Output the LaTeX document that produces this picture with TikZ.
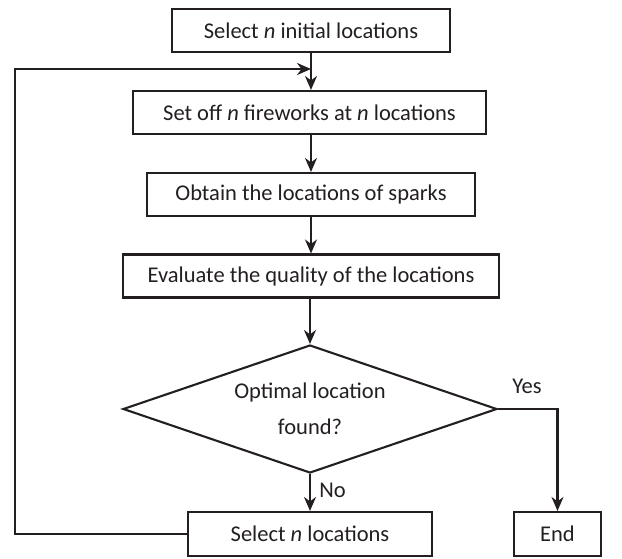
\documentclass[tikz,border=0pt]{standalone}
\usepackage{fontspec}
\setmainfont{Carlito}
\usetikzlibrary{shapes.geometric,arrows.meta}
\definecolor{ink}{HTML}{231F20}
\tikzset{
  box/.style={draw=ink, line width=2.1pt, rectangle, inner sep=0pt, minimum height=43pt, text=ink, font=\fontsize{22.5}{26}\selectfont},
  decide/.style={draw=ink, line width=2.1pt, shape=diamond, aspect=2.92, inner sep=0pt, minimum width=374pt, minimum height=128pt, text=ink, align=center, font=\fontsize{22.5}{36}\selectfont},
  flow/.style={draw=ink, line width=2.1pt, -{Stealth[length=14pt,width=12pt,inset=4.5pt]}},
  lbl/.style={text=ink, font=\fontsize{22.5}{26}\selectfont}
}
\begin{document}
\begin{tikzpicture}[x=1pt,y=-1pt]
\useasboundingbox (0,0) rectangle (622,558);
\node[box, minimum width=278pt] (b1) at (311,30.5) {Select \textit{n} initial locations};
\node[box, minimum width=353pt] (b2) at (309.5,112.5) {Set off \textit{n} fireworks at \textit{n} locations};
\node[box, minimum width=328pt] (b3) at (311,194.5) {Obtain the locations of sparks};
\node[box, minimum width=376pt] (b4) at (311,276) {Evaluate the quality of the locations};
\node[decide] (dia) at (310,409) {Optimal location\\found?};
\node[box, minimum width=244pt, minimum height=44pt] (sel) at (310,534) {Select \textit{n} locations};
\node[box, minimum width=87pt, minimum height=44pt] (end) at (557.5,534) {End};
\coordinate (fbb) at (15,534);
\coordinate (fbt) at (15,69);
\coordinate (fbj) at (311,69);
\coordinate (yc) at (557.5,409);
\draw[flow] (b1.south) -- (b1.south |- b2.north);
\draw[flow] (sel.west) -- (fbb) -- (fbt) -- (fbj);
\draw[flow] (b2.south -| b3.north) -- (b3.north);
\draw[flow] (b3.south) -- (b3.south |- b4.north);
\draw[flow] (b4.south -| dia.north) -- (dia.north);
\draw[flow] (dia.south) -- (sel.north) node[lbl, pos=0.45, anchor=west, xshift=5pt] (no) {No};
\draw[flow] (dia.east) -- (yc) -- (end.north);
\node[lbl] (yes) at (527,386) {Yes};
\end{tikzpicture}
\end{document}
